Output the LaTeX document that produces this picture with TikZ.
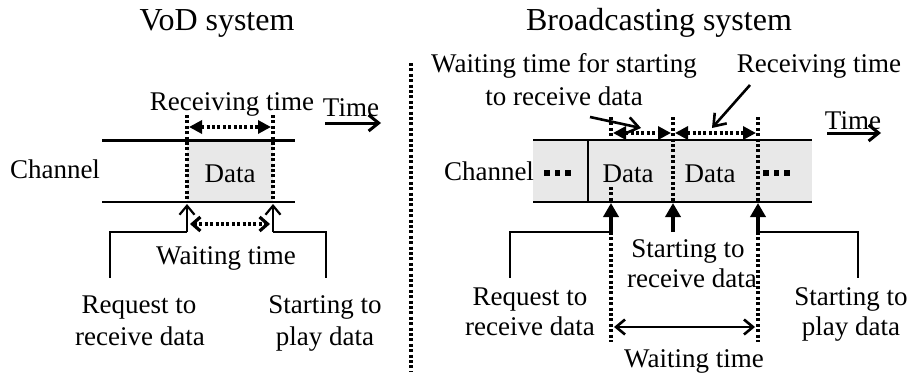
\documentclass[tikz,border=0pt]{standalone}
\usepackage{fontspec}
\setmainfont{Liberation Serif}
\usetikzlibrary{arrows.meta}
\begin{document}
\begin{tikzpicture}[x=1pt,y=-1pt,
  txt/.style={font=\fontsize{27}{31}\selectfont, inner sep=0pt, anchor=base},
  ttl/.style={font=\fontsize{32}{36}\selectfont, inner sep=0pt, anchor=base},
  chan/.style={line width=2.6pt},
  conn/.style={line width=2.2pt},
  dotl/.style={line width=3.2pt, dash pattern=on 3pt off 2.4pt},
  shadebox/.style={fill=black!9},
  tri/.tip={Triangle[length=13pt,width=13pt]},
  bigtri/.tip={Triangle[length=14pt,width=15pt]},
  barb/.tip={Straight Barb[length=9pt,width=15pt]},
  smallbarb/.tip={Straight Barb[length=8pt,width=14pt]},
  timebarb/.tip={Straight Barb[length=10pt,width=16pt]},
  ptrbarb/.tip={Straight Barb[length=11pt,width=16pt]},
  sq/.style={fill=black, minimum size=5.5pt, inner sep=0pt}
]
\useasboundingbox (0,0) rectangle (911,375);

% ---------- titles ----------
\node[ttl] (vodt) at (217,30) {VoD system};
\node[ttl] (bct) at (659,30) {Broadcasting system};

% ---------- divider ----------
\coordinate (divT) at (411,63);
\coordinate (divB) at (411,372);
\draw[dotl] (divT) -- (divB);

% ================= VoD system =================
\coordinate (L1) at (187,140.5);
\coordinate (L2) at (273,202);
\fill[shadebox] (L1) rectangle (L2);
\draw[chan] (102,140.5) -- (295,140.5);
\draw[chan] (102,202) -- (295,202);
\draw[dotl] (187,115) -- (187,202);
\draw[dotl] (273,115) -- (273,202);

\node[txt] (lchan) at (55,178) {Channel};
\node[txt] (ldata) at (230,182) {Data};
\node[txt] (lrecv) at (232,110) {Receiving time};
\draw[dotl, tri-tri] (189,127) -- (271,127);

\node[txt] (ltime) at (351,116) {Time};
\coordinate (ltA) at (325,123);
\coordinate (ltB) at (381,123);
\draw[line width=3pt, -timebarb] (ltA) -- (ltB);

% up arrows and connectors
\coordinate (la) at (187,232);
\coordinate (lb) at (273,232);
\draw[conn, -barb] (la) -- (187,204);
\draw[conn, -barb] (lb) -- (273,204);
\coordinate (lac) at (110,232);
\coordinate (lae) at (110,278);
\coordinate (lbc) at (326,232);
\coordinate (lbe) at (326,278);
\draw[conn] (la) -- (lac) -- (lae);
\draw[conn] (lb) -- (lbc) -- (lbe);
\draw[dotl, smallbarb-smallbarb] (190,224) -- (270,224);

\node[txt] (lwait) at (226,264) {Waiting time};
\node[txt] (lreq1) at (139,313) {Request to};
\node[txt] (lreq2) at (140,345) {receive data};
\node[txt] (lplay1) at (325,313) {Starting to};
\node[txt] (lplay2) at (325,345) {play data};

% ================= Broadcasting system =================
\coordinate (R1) at (533,140);
\coordinate (R2) at (812,202);
\fill[shadebox] (R1) rectangle (R2);
\draw[chan] (533,140) -- (812,140);
\draw[chan] (533,202) -- (812,202);
\draw[chan] (588,140) -- (588,202);
\draw[dotl] (673,117) -- (673,202);
\draw[dotl] (758,117) -- (758,202);
\draw[dotl] (611,117) -- (611,140);
\draw[dotl] (611,187) -- (611,202);
\draw[dotl] (611,232) -- (611,342);
\draw[dotl] (758,232) -- (758,342);

\node[txt] (rchan) at (489,180) {Channel};
\node[txt] (rdata1) at (628,182) {Data};
\node[txt] (rdata2) at (710,182) {Data};
\foreach \x [count=\i] in {547,557.5,568} \node[sq] (dl\i) at (\x,173) {};
\foreach \x [count=\i] in {766,776.5,787} \node[sq] (dr\i) at (\x,173) {};

% dotted arrows above channel
\draw[dotl, tri-tri] (613,133) -- (671,133);
\draw[dotl, tri-tri] (675,133) -- (756,133);

\node[txt] (wfs1) at (564,72) {Waiting time for starting};
\node[txt] (wfs2) at (564,105) {to receive data};
\node[txt] (rrecv) at (819,72) {Receiving time};
\coordinate (p1s) at (590,117);
\coordinate (p1e) at (641,128);
\coordinate (p2s) at (750,85);
\coordinate (p2e) at (712,128);
\draw[line width=2.6pt, -ptrbarb] (p1s) -- (p1e);
\draw[line width=2.6pt, -ptrbarb] (p2s) -- (p2e);

\node[txt] (rtime) at (853,129) {Time};
\coordinate (rtA) at (827,133);
\coordinate (rtB) at (881,133);
\draw[line width=3pt, -timebarb] (rtA) -- (rtB);

% up arrows
\coordinate (ra) at (611,232);
\coordinate (rb) at (673,232);
\coordinate (rc) at (758,232);
\draw[line width=4pt, -bigtri] (ra) -- (611,203);
\draw[line width=4pt, -bigtri] (rb) -- (673,203);
\draw[line width=4pt, -bigtri] (rc) -- (758,203);
\coordinate (rac) at (510,232);
\coordinate (rae) at (510,278);
\coordinate (rcc) at (858,232);
\coordinate (rce) at (858,278);
\draw[conn] (ra) -- (rac) -- (rae);
\draw[conn] (rc) -- (rcc) -- (rce);

\node[txt] (rstart1) at (688,257) {Starting to};
\node[txt] (rstart2) at (692,287) {receive data};
\node[txt] (rreq1) at (530,305) {Request to};
\node[txt] (rreq2) at (530,335) {receive data};
\node[txt] (rplay1) at (851,305) {Starting to};
\node[txt] (rplay2) at (851,335) {play data};

\draw[line width=2.6pt, barb-barb] (614,327) -- (755,327);
\node[txt] (rwait) at (694,367) {Waiting time};
\end{tikzpicture}
\end{document}
